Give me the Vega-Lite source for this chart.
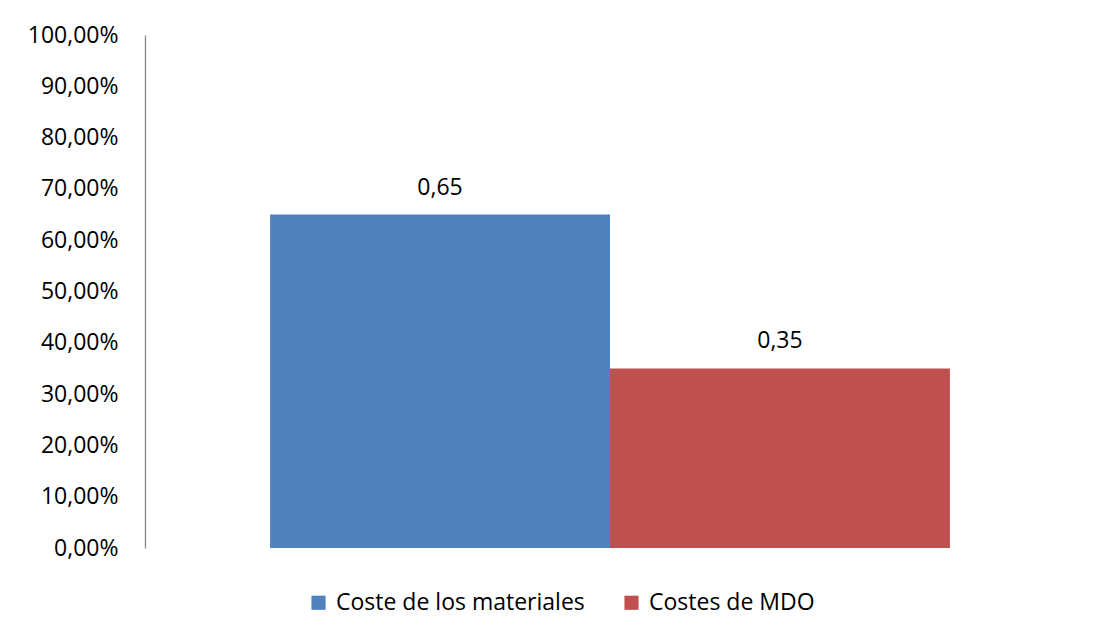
{
  "$schema": "https://vega.github.io/schema/vega-lite/v6.json",
  "autosize": "none",
  "width": 930,
  "height": 513,
  "padding": {"left": 145, "top": 35, "right": 24, "bottom": 90},
  "background": "white",
  "config": {
    "locale": {"number": {"decimal": ",", "thousands": ".", "grouping": [3], "currency": ["", " €"]}},
    "view": {"stroke": null},
    "font": "Open Sans"
  },
  "data": {
    "values": [
      {"serie": "Coste de los materiales", "valor": 0.65},
      {"serie": "Costes de MDO", "valor": 0.35}
    ]
  },
  "encoding": {
    "x": {
      "field": "serie",
      "type": "nominal",
      "sort": null,
      "scale": {"paddingInner": 0, "paddingOuter": 0.368},
      "axis": null
    },
    "y": {
      "field": "valor",
      "type": "quantitative",
      "scale": {"domain": [0, 1], "nice": false},
      "axis": {
        "values": [0, 0.1, 0.2, 0.3, 0.4, 0.5, 0.6, 0.7, 0.8, 0.9, 1],
        "format": ".2%",
        "grid": false,
        "ticks": false,
        "domainColor": "#868686",
        "domainWidth": 1.3,
        "labelFontSize": 23,
        "labelColor": "#000000",
        "labelPadding": 27,
        "title": null
      }
    }
  },
  "layer": [
    {
      "mark": {"type": "bar"},
      "encoding": {
        "color": {
          "field": "serie",
          "type": "nominal",
          "sort": null,
          "scale": {"range": ["#4F81BD", "#C0504D"]},
          "legend": {
            "title": null,
            "orient": "none",
            "direction": "horizontal",
            "legendX": 162,
            "legendY": 556,
            "symbolType": "square",
            "symbolSize": 200,
            "symbolStrokeWidth": 0,
            "labelFontSize": 23,
            "labelColor": "#000000",
            "labelOffset": 6,
            "columnPadding": 35,
            "labelLimit": 400
          }
        }
      }
    },
    {
      "mark": {"type": "text", "baseline": "bottom", "dy": -15, "fontSize": 23, "color": "#000000"},
      "encoding": {
        "text": {"field": "valor", "type": "quantitative", "format": ".2f"}
      }
    }
  ]
}
